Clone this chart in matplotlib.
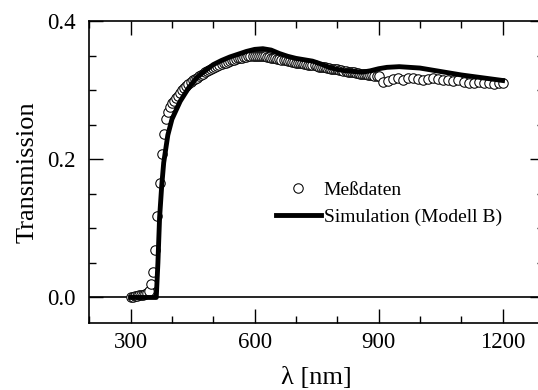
import numpy as np
from matplotlib import pyplot as plt
from matplotlib.ticker import MultipleLocator

plt.rcParams['font.family'] = ['Liberation Serif', 'DejaVu Serif']

# measured transmission (Meßdaten), UV-VIS part in 5 nm steps
lamMess = np.arange(300, 905, 5)
tMess = [0.001, 0.001, 0.002, 0.002, 0.003, 0.003, 0.004, 0.005, 0.007, 0.010,
         0.020, 0.037, 0.068, 0.118, 0.166, 0.208, 0.237, 0.258, 0.268, 0.275,
         0.281, 0.284, 0.288, 0.292, 0.296, 0.300, 0.303, 0.306, 0.309, 0.312,
         0.314, 0.316, 0.318, 0.320, 0.322, 0.324, 0.326, 0.328, 0.329, 0.331,
         0.332, 0.334, 0.335, 0.336, 0.338, 0.339, 0.340, 0.341, 0.342, 0.343,
         0.344, 0.345, 0.346, 0.347, 0.347, 0.348, 0.348, 0.349, 0.349, 0.350,
         0.350, 0.350, 0.350, 0.350, 0.349, 0.349, 0.348, 0.348, 0.347, 0.347,
         0.346, 0.345, 0.345, 0.344, 0.343, 0.343, 0.342, 0.342, 0.341, 0.341,
         0.340, 0.340, 0.339, 0.339, 0.338, 0.338, 0.337, 0.337, 0.336, 0.336,
         0.335, 0.334, 0.334, 0.333, 0.333, 0.332, 0.332, 0.331, 0.331, 0.330,
         0.330, 0.329, 0.329, 0.328, 0.328, 0.327, 0.327, 0.326, 0.326, 0.325,
         0.325, 0.324, 0.324, 0.323, 0.323, 0.322, 0.322, 0.322, 0.321, 0.321,
         0.320]

# NIR part of the measurement
lamMessNIR = [910, 922, 934, 946, 959, 971, 983, 995, 1008, 1020, 1032, 1044,
              1057, 1069, 1081, 1093, 1106, 1118, 1130, 1142, 1155, 1167, 1179,
              1191, 1200]
tMessNIR = [0.312, 0.313, 0.316, 0.317, 0.315, 0.317, 0.318, 0.316, 0.314,
            0.316, 0.317, 0.316, 0.315, 0.314, 0.313, 0.314, 0.312, 0.311,
            0.311, 0.312, 0.310, 0.310, 0.309, 0.310, 0.310]

# simulation (Modell B)
lamSim = [300, 350, 362, 366, 370, 375, 380, 390, 400, 420, 440, 460, 480, 500,
          520, 540, 560, 580, 600, 620, 640, 660, 680, 700, 720, 740, 760, 780,
          800, 820, 840, 860, 880, 900, 920, 950, 1000, 1050, 1100, 1150, 1200]
tSim = [0.0, 0.0, 0.0, 0.05, 0.115, 0.16, 0.195, 0.235, 0.258, 0.284, 0.303,
        0.318, 0.328, 0.337, 0.343, 0.348, 0.352, 0.356, 0.359, 0.360, 0.358,
        0.353, 0.349, 0.346, 0.344, 0.342, 0.338, 0.333, 0.330, 0.328, 0.327,
        0.326, 0.328, 0.331, 0.333, 0.334, 0.332, 0.327, 0.322, 0.318, 0.314]

fig = plt.figure(figsize=(5.38, 3.9), dpi=100)
ax = fig.add_axes([0.166, 0.1726, 1.011 - 0.166, 0.946 - 0.1726])

ax.axhline(0, color='black', lw=1.2, zorder=1)
lamAll = list(lamMess) + lamMessNIR
tAll = tMess + tMessNIR
ax.plot(lamAll, tAll, 'o', mfc='white', mec='black', ms=6.8, mew=0.75,
        label='Meßdaten', zorder=2)
ax.plot(lamSim, tSim, color='black', lw=3.5, label='Simulation (Modell B)',
        zorder=3)

ax.set_xlim(200, 1300)
ax.set_ylim(-0.0365, 0.4)
ax.xaxis.set_minor_locator(MultipleLocator(100))
ax.yaxis.set_minor_locator(MultipleLocator(0.05))
ax.set_xticks([300, 600, 900, 1200])
ax.set_yticks([0.0, 0.2, 0.4])
ax.set_yticklabels(['0.0', '0.2', '0.4'])

ax.tick_params(which='both', direction='in', top=True, right=True, width=1.0,
               labelsize=16.5)
ax.tick_params(which='major', length=10)
ax.tick_params(which='minor', length=5)
ax.tick_params(axis='y', pad=10)
ax.tick_params(axis='x', pad=7)
for s in ax.spines.values():
    s.set_linewidth(1.2)

ax.set_xlabel('λ [nm]', fontsize=19, labelpad=10)
ax.set_ylabel('Transmission', fontsize=19, labelpad=6)

ax.legend(loc='upper left', bbox_to_anchor=(276 / 538, 1 - 181 / 390),
          bbox_transform=fig.transFigure, frameon=False, fontsize=14,
          numpoints=1, handlelength=2.3, handletextpad=0.15,
          labelspacing=0.5, borderpad=0, borderaxespad=0)

fig.savefig('out.png', dpi=100)
